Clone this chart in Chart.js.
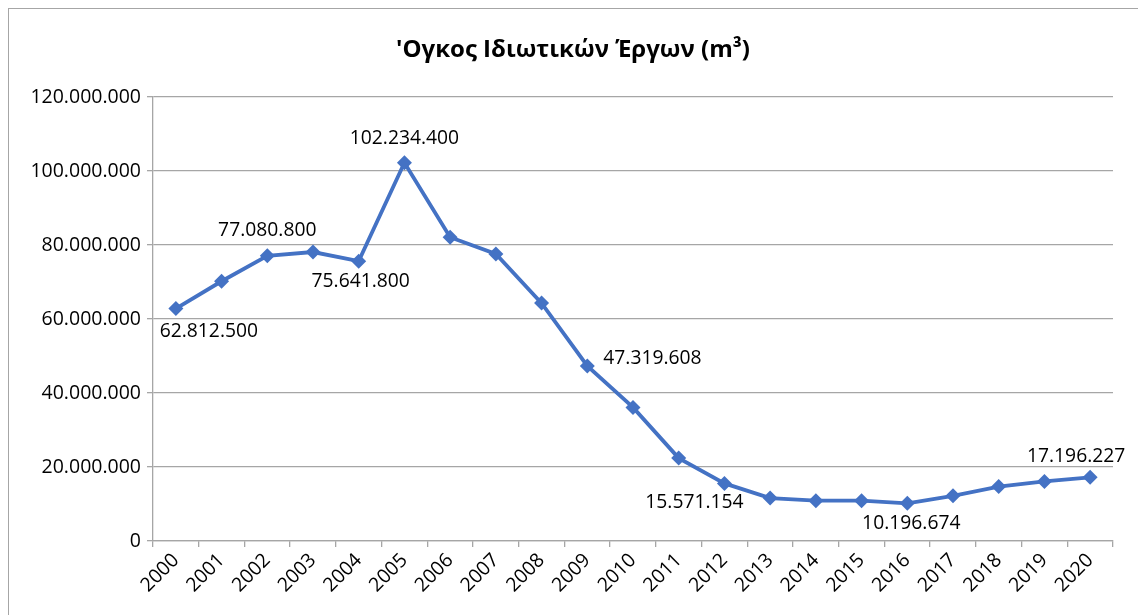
<!DOCTYPE html>
<html>
<head>
<meta charset="utf-8">
<script src="https://cdn.jsdelivr.net/npm/chart.js@4/dist/chart.umd.min.js"></script>
<style>
  html, body { margin: 0; padding: 0; background: #fff; overflow: hidden; }
  #wrap { position: relative; width: 1138px; height: 615px; }
  #frame { position: absolute; left: 8px; top: 8px; width: 1200px; height: 700px; border: 1.5px solid #a6a6a6; box-sizing: border-box; pointer-events: none; }
  canvas { position: absolute; left: 0; top: 0; }
</style>
</head>
<body>
<div id="wrap">
  <canvas id="c" width="1138" height="615"></canvas>
  <div id="frame"></div>
</div>
<script>
const years = ['2000','2001','2002','2003','2004','2005','2006','2007','2008','2009','2010',
               '2011','2012','2013','2014','2015','2016','2017','2018','2019','2020'];
const volumes = [62812500, 70200000, 77080800, 78100000, 75641800, 102234400, 82100000, 77600000,
                 64300000, 47319608, 36100000, 22400000, 15571154, 11600000, 10900000, 10900000,
                 10196674, 12200000, 14700000, 16100000, 17196227];
const yTicks = [0, 20000000, 40000000, 60000000, 80000000, 100000000, 120000000];
const labelledYears = ['2000','2002','2004','2005','2009','2012','2016','2020'];
const titleText = "'Ογκος Ιδιωτικών Έργων (m³)";

const FONT = "'Open Sans', sans-serif";
const fmt = v => Math.round(v).toString().replace(/\B(?=(\d{3})+(?!\d))/g, '.');

// label placement relative to the point (dx, dy, alignment)
const labelPlacement = {
  '2000': {dx: 33, dy: 23, align: 'center'},
  '2002': {dx: 0, dy: -25, align: 'center'},
  '2004': {dx: 2, dy: 20, align: 'center'},
  '2005': {dx: 0, dy: -24, align: 'center'},
  '2009': {dx: 16, dy: -7, align: 'left'},
  '2012': {dx: -30, dy: 19, align: 'center'},
  '2016': {dx: 4, dy: 20, align: 'center'},
  '2020': {dx: -14, dy: -21, align: 'center'}
};

const labelPlugin = {
  id: 'pointLabels',
  afterDatasetsDraw(chart) {
    const ctx = chart.ctx;
    const meta = chart.getDatasetMeta(0);
    ctx.save();
    ctx.font = '19.3px ' + FONT;
    ctx.fillStyle = '#000';
    ctx.textBaseline = 'middle';
    labelledYears.forEach(y => {
      const i = years.indexOf(y);
      const el = meta.data[i];
      const p = labelPlacement[y];
      ctx.textAlign = p.align;
      ctx.fillText(fmt(volumes[i]), el.x + p.dx, el.y + p.dy);
    });
    ctx.restore();
  }
};

const titlePlugin = {
  id: 'frameTitle',
  afterDraw(chart) {
    const ctx = chart.ctx;
    ctx.save();
    ctx.font = 'bold 24px ' + FONT;
    ctx.fillStyle = '#000';
    ctx.textAlign = 'center';
    ctx.textBaseline = 'middle';
    ctx.fillText(titleText, 573, 50);
    ctx.restore();
  }
};

new Chart(document.getElementById('c'), {
  type: 'line',
  data: {
    labels: years,
    datasets: [{
      data: volumes,
      borderColor: '#4472C4',
      backgroundColor: '#4472C4',
      borderWidth: 3.8,
      pointStyle: 'rectRot',
      pointRadius: 7.5,
      pointHoverRadius: 7.5,
      pointBorderWidth: 0,
      tension: 0,
      fill: false
    }]
  },
  options: {
    responsive: false,
    animation: false,
    events: [],
    layout: { padding: { left: 0, right: 25, top: 97, bottom: 0 } },
    plugins: {
      legend: { display: false },
      tooltip: { enabled: false },
      title: { display: false }
    },
    scales: {
      x: {
        offset: true,
        grid: {
          display: true,
          offset: true,
          drawOnChartArea: false,
          drawTicks: true,
          tickLength: 6,
          color: '#a6a6a6',
          lineWidth: 1.3
        },
        border: { display: true, color: '#a6a6a6', width: 1.3 },
        ticks: {
          color: '#000',
          font: { family: FONT, size: 19.5 },
          maxRotation: 45,
          minRotation: 45,
          autoSkip: false,
          padding: 2
        },
        afterFit(scale) { scale.height = 615 - 541; }
      },
      y: {
        min: 0,
        max: 120000000,
        afterBuildTicks(scale) { scale.ticks = yTicks.map(v => ({ value: v })); },
        grid: {
          color: '#a6a6a6',
          lineWidth: 1.3,
          drawTicks: true,
          tickLength: 6
        },
        border: { display: true, color: '#a6a6a6', width: 1.3 },
        ticks: {
          color: '#000',
          font: { family: FONT, size: 19.5 },
          padding: 6,
          callback: v => fmt(v)
        },
        afterFit(scale) { scale.width = 153; }
      }
    }
  },
  plugins: [labelPlugin, titlePlugin]
});
</script>
</body>
</html>
